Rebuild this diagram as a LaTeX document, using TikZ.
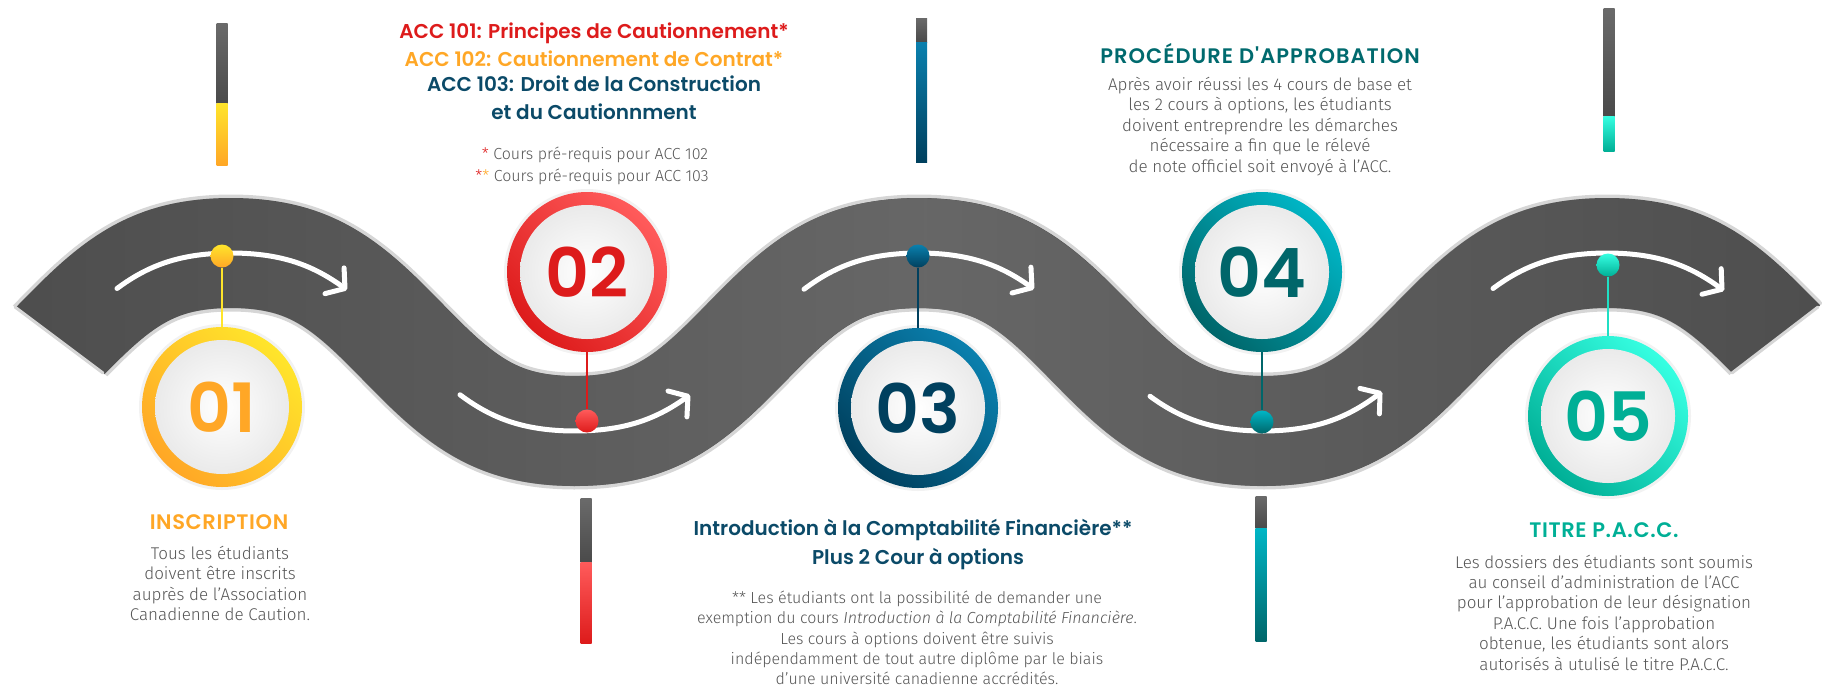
\documentclass[tikz,border=0pt]{standalone}
\usepackage{fontspec}
\setmainfont{Fira Sans}[UprightFont=* Light, ItalicFont=* Light Italic]
\newfontfamily\headfont{Poppins}[BoldFont=* SemiBold]
\usetikzlibrary{arrows.meta,fadings}
\definecolor{roadc}{HTML}{4C4C4C}
\definecolor{roadmid}{HTML}{676767}
\definecolor{roadedge}{HTML}{D6D6D6}
\definecolor{bodygray}{HTML}{555555}
\definecolor{discgray}{HTML}{EAEAEA}
\definecolor{barL}{HTML}{6A6A6A}
\definecolor{barD}{HTML}{4A4A4A}
\definecolor{yelL}{HTML}{FFE52B}
\definecolor{yelD}{HTML}{FFA726}
\definecolor{redL}{HTML}{FF5B5B}
\definecolor{redD}{HTML}{DD1B1B}
\definecolor{bluL}{HTML}{0A80AE}
\definecolor{bluD}{HTML}{00405E}
\definecolor{bluT}{HTML}{0B4A68}
\definecolor{tealL}{HTML}{00B6C6}
\definecolor{tealD}{HTML}{00666A}
\definecolor{tealT}{HTML}{006A6E}
\definecolor{aquaL}{HTML}{36FFE2}
\definecolor{aquaD}{HTML}{00AF96}
\tikzfading[name=roadfade, left color=transparent!100, right color=transparent!100, middle color=transparent!0]
\tikzset{
  declare function={ry(\x)=342-89*(sin((\x-59)/344*180)+0.06*sin(3*(\x-59)/344*180))/0.94;},
  arr/.style={white, line width=5pt, line cap=round, line join=round, -{Straight Barb[length=13pt,width=32pt,round]}},
  ring/.style={circle, inner sep=0pt, minimum size=160pt, shade, top color=#1L, bottom color=#1D, shading angle=-45},
  halo/.style={circle, inner sep=0pt, minimum size=166pt, fill=black!5},
  disc/.style={circle, inner sep=0pt, minimum size=134pt, shade, inner color=white, outer color=discgray, text=#1, font=\headfont\bfseries\fontsize{68}{68}\selectfont},
  dot/.style={circle, inner sep=0pt, minimum size=23pt, shade, top color=#1L, bottom color=#1D},
  stem/.style={line width=2pt, color=#1},
  ttl/.style={font=\headfont\bfseries\fontsize{20}{24}\selectfont, anchor=base, inner sep=0pt},
  capttl/.style={font=\headfont\bfseries\fontsize{21}{24}\selectfont\addfontfeature{LetterSpace=#1}, anchor=base, inner sep=0pt},
  body/.style={font=\fontsize{17}{20}\selectfont, text=bodygray, anchor=base, inner sep=0pt},
  bodys/.style={font=\fontsize{16}{20}\selectfont, text=bodygray, anchor=base, inner sep=0pt},
}
\begin{document}
\begin{tikzpicture}[x=1pt,y=-1pt]
\useasboundingbox (0,0) rectangle (1822,686);
% road
\coordinate (L1) at (15,307);
\coordinate (L2) at (103,373);
\coordinate (R1) at (1818,307);
\coordinate (R2) at (1732,373);
\begin{scope}
\clip (-205,142) -- (411,604) -- (1431,604) -- (2033,142) -- (2033,-50) -- (-205,-50) -- cycle;
\draw[line width=117pt, roadedge, line join=round] plot[domain=0:1850, samples=320] (\x,{ry(\x)});
\draw[line width=110pt, roadc, line join=round] plot[domain=0:1850, samples=320] (\x,{ry(\x)});
\draw[line width=110pt, roadmid, line join=round, path fading=roadfade] plot[domain=0:1850, samples=320] (\x,{ry(\x)});
\end{scope}
\draw[roadedge, line width=3pt, line cap=round] (L1) -- (L2);
\draw[roadedge, line width=3pt, line cap=round] (R1) -- (R2);
% arrows
\draw[arr] plot[domain=117:347, samples=50] (\x,{ry(\x)});
\draw[arr] plot[domain=460:690, samples=50] (\x,{ry(\x)});
\draw[arr] plot[domain=804:1034, samples=50] (\x,{ry(\x)});
\draw[arr] plot[domain=1150:1382, samples=50] (\x,{ry(\x)});
\draw[arr] plot[domain=1493:1724, samples=50] (\x,{ry(\x)});
% bars
\shade[top color=barL, bottom color=barD] (216.5,23) rectangle (227.5,103);
\shade[top color=yelL, bottom color=yelD] (216.5,103) rectangle (227.5,165);
\shade[top color=barL, bottom color=barD] (916,18) rectangle (927,42);
\shade[top color=bluL, bottom color=bluD] (916,42) rectangle (927,162);
\shade[top color=barL, bottom color=barD] (1603.5,8) rectangle (1614.5,116);
\shade[top color=aquaL, bottom color=aquaD] (1603.5,116) rectangle (1614.5,151);
\shade[top color=barL, bottom color=barD] (580.5,498) rectangle (591.5,562);
\shade[top color=redL, bottom color=redD] (580.5,562) rectangle (591.5,643);
\shade[top color=barL, bottom color=barD] (1255.5,496) rectangle (1266.5,528);
\shade[top color=tealL, bottom color=tealD] (1255.5,528) rectangle (1266.5,641);
% circles
\node[halo] (h1) at (222,407) {};
\node[ring=yel] (c1) at (222,407) {};
\node[disc=yelD] (n1) at (c1) {01};
\node[halo] (h2) at (587,272) {};
\node[ring=red] (c2) at (587,272) {};
\node[disc=redD] (n2) at (c2) {02};
\node[halo] (h3) at (918,408) {};
\node[ring=blu] (c3) at (918,408) {};
\node[disc=bluD] (n3) at (c3) {03};
\node[halo] (h4) at (1262,272) {};
\node[ring=teal] (c4) at (1262,272) {};
\node[disc=tealD] (n4) at (c4) {04};
\node[halo] (h5) at (1608,416) {};
\node[ring=aqua] (c5) at (1608,416) {};
\node[disc=aquaD] (n5) at (c5) {05};
% dots
\node[dot=yel] (d1) at (222,256) {};
\node[dot=red] (d2) at (587,421) {};
\node[dot=blu] (d3) at (918,256) {};
\node[dot=teal] (d4) at (1262,422) {};
\node[dot=aqua] (d5) at (1608,265) {};
\draw[stem=yelL] (d1) -- (c1);
\draw[stem=redD] (d2) -- (c2);
\draw[stem=bluD] (d3) -- (c3);
\draw[stem=tealD] (d4) -- (c4);
\draw[stem=aquaL!60!aquaD] (d5) -- (c5);
% texts 02
\node[ttl, text=redD] (t2a) at (594,38) {ACC 101: Principes de Cautionnement*};
\node[ttl, text=yelD] (t2b) at (594,66) {ACC 102: Cautionnement de Contrat*};
\node[ttl, text=bluT] (t2c) at (594,91) {ACC 103: Droit de la Construction};
\node[ttl, text=bluT] (t2d) at (594,119) {et du Cautionnment};
\node[bodys] (s2a) at (595,159.5) {{\color{redD}*} Cours pré-requis pour ACC 102};
\node[bodys] (s2b) at (592,181.5) {{\color{redD}*}{\color{yelD}*} Cours pré-requis pour ACC 103};
% texts 04
\node[capttl=5, text=tealT] (t4) at (1260,63) {PROCÉDURE D'APPROBATION};
\foreach \t [count=\i] in {Après avoir réussi les 4 cours de base et, {les 2 cours à options, les étudiants}, doivent entreprendre les démarches, nécessaire a fin que le rélevé, de note officiel soit envoyé à l'ACC.}
  \node[body, name=b4\i] at (1260,{90+20.5*(\i-1)}) {\t};
% texts 01
\node[capttl=3, text=yelD] (t1) at (219,529) {INSCRIPTION};
\foreach \t [count=\i] in {Tous les étudiants, doivent être inscrits, auprès de l'Association, Canadienne de Caution.}
  \node[body, name=b1\i] at (220,{559+20.5*(\i-1)}) {\t};
% texts 03
\node[ttl, text=bluT] (t3a) at (913,535) {Introduction à la Comptabilité Financière**};
\node[ttl, text=bluT] (t3b) at (918,564) {Plus 2 Cour à options};
\foreach \t [count=\i] in {** Les étudiants ont la possibilité de demander une, exemption du cours \textit{Introduction à la Comptabilité Financière}., Les cours à options doivent être suivis, indépendamment de tout autre diplôme par le biais, d'une université canadienne accrédités.}
  \node[bodys, name=b3\i] at (917,{603.5+20.3*(\i-1)}) {\t};
% texts 05
\node[capttl=3, text=aquaD] (t5) at (1604,537) {TITRE P.A.C.C.};
\foreach \t [count=\i] in {Les dossiers des étudiants sont soumis, au conseil d'administration de l'ACC, pour l'approbation de leur désignation, P.A.C.C. Une fois l'approbation, {obtenue, les étudiants sont alors}, autorisés à utulisé le titre P.A.C.C.}
  \node[body, name=b5\i] at (1604,{568+20.4*(\i-1)}) {\t};
\end{tikzpicture}
\end{document}
